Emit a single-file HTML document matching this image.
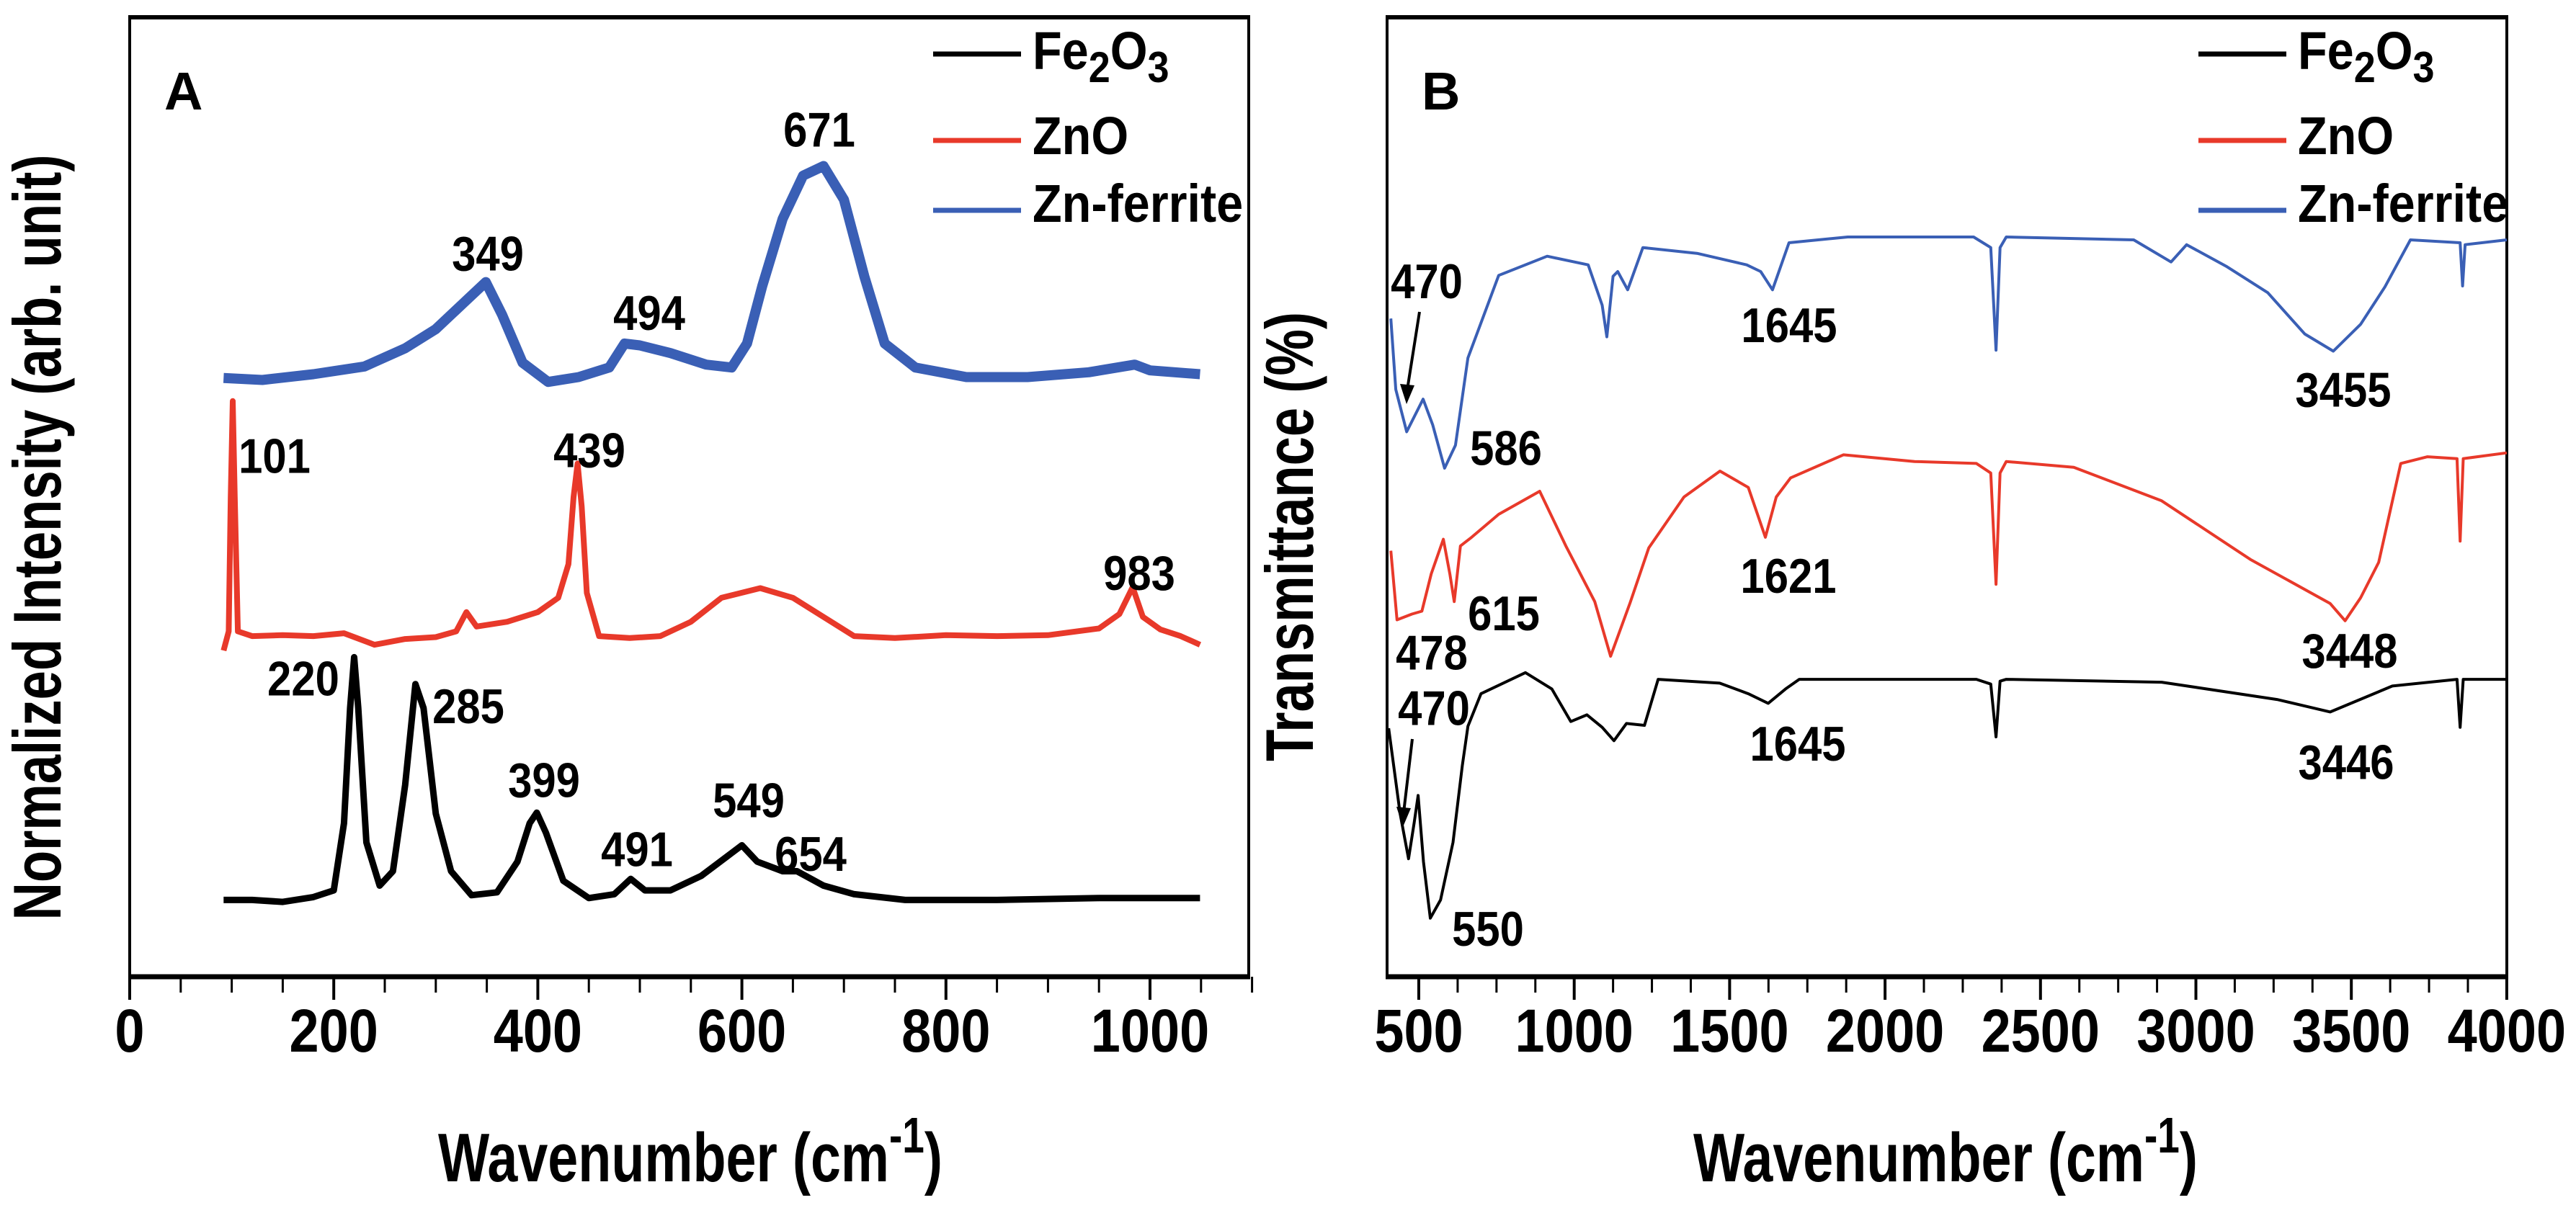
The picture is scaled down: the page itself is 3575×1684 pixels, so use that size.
<!DOCTYPE html>
<html><head><meta charset="utf-8"><style>
html,body{margin:0;padding:0;background:#fff}
svg{display:block}
text{font-family:"Liberation Sans",sans-serif;font-weight:bold;fill:#000}
</style></head><body>
<svg id="fig" width="3575" height="1684" viewBox="0 0 3575 1684" xmlns="http://www.w3.org/2000/svg">
<rect width="3575" height="1684" fill="#fff"/>
<g id="panelA"></g>
<g id="panelB"></g>
</svg>
<script>
// ---------- Panel A data (Raman) ----------
const ramanFe2O3 = [[92,8],[120,8],[150,7.8],[180,8.3],[200,9],[210,16],[216,28],[220,33.3],[224,28],[232,14],[245,9.5],[258,11],[270,20],[280,30.5],[288,28],[300,17],[315,11],[335,8.5],[360,8.8],[380,12],[392,16],[399,17.1],[408,15],[425,10],[450,8.2],[475,8.6],[491,10.2],[505,9],[530,9],[560,10.5],[585,12.5],[600,13.7],[615,12],[640,11],[654,11],[680,9.5],[710,8.6],[760,8],[850,8],[950,8.2],[1049,8.2]];
const ramanZnO = [[92,34],[97,36],[99,50],[101,60],[103,50],[106,36],[120,35.5],[150,35.6],[180,35.5],[210,35.8],[240,34.6],[270,35.2],[300,35.4],[320,36],[330,38],[340,36.5],[370,37],[400,38],[420,39.5],[430,43],[435,50],[439,53.5],[443,49],[448,40],[460,35.5],[490,35.3],[520,35.5],[550,37],[580,39.5],[618,40.5],[650,39.5],[680,37.5],[710,35.5],[750,35.3],[800,35.6],[850,35.5],[900,35.6],[950,36.3],[970,37.8],[983,40.6],[993,37.5],[1010,36.2],[1030,35.5],[1049,34.6]];
const ramanZnFerrite = [[92,62.4],[130,62.2],[180,62.8],[230,63.6],[270,65.5],[300,67.5],[330,70.5],[349,72.4],[365,69],[385,64],[410,62],[440,62.5],[470,63.5],[485,66],[500,65.8],[530,65],[565,63.8],[590,63.5],[605,66],[620,72],[640,79],[660,83.5],[680,84.5],[700,81],[720,73],[740,66],[770,63.5],[820,62.5],[880,62.5],[940,63],[985,63.8],[1000,63.2],[1049,62.8]];
const ticksA = [0,200,400,600,800,1000];
const peakLabelsA = [["349",349,75.5],["494",494,69.3],["671",671,88.4],["101",101,54.4],["439",439,55],["983",983,42.2],["220",220,31.2],["285",285,28.3],["399",399,20.6],["549",600,18.5],["491",491,13.4],["654",654,12.9]];
const peakLabelsAx = [677,901,1137,381,818,1581,421,650,755,1039,884,1125];

// ---------- Panel B data (FTIR) ----------
const ftirFe2O3 = [[403,25.9],[440,17],[467,12.3],[485,16],[498,18.9],[515,12],[537,6.1],[570,8],[610,14],[640,22],[658,26.1],[700,29.5],[843,31.7],[928,30.0],[989,26.6],[1041,27.3],[1090,26],[1128,24.6],[1168,26.4],[1226,26.2],[1270,31.0],[1468,30.6],[1560,29.5],[1624,28.5],[1680,30],[1724,31.0],[2294,31.0],[2340,30.5],[2357,25.0],[2370,30.8],[2390,31.0],[2890,30.7],[3261,28.9],[3432,27.6],[3632,30.3],[3840,31],[3850,26],[3860,31],[4000,31.0]];
const ftirZnO = [[410,44.4],[430,37.2],[478,37.8],[510,38.1],[540,42],[579,45.6],[600,42],[614,39.1],[634,44.9],[670,45.8],[757,48.2],[889,50.6],[973,44.9],[1066,39.1],[1117,33.4],[1180,39],[1240,44.7],[1353,50.0],[1469,52.7],[1560,51],[1615,45.8],[1650,50],[1696,52.0],[1866,54.4],[2095,53.7],[2294,53.5],[2340,52.5],[2357,40.9],[2370,52.5],[2390,53.7],[2607,53.1],[2890,49.6],[3175,43.5],[3432,38.9],[3480,37.1],[3530,39.5],[3588,43.2],[3659,53.5],[3745,54.2],[3840,54],[3850,45.4],[3860,54],[4000,54.6]];
const ftirZnFerrite = [[410,68.6],[426,61.2],[461,56.8],[514,60.2],[545,57.5],[583,53.0],[618,55.4],[658,64.5],[757,73.1],[913,75.1],[1045,74.2],[1090,70],[1105,66.7],[1125,73],[1140,73.5],[1172,71.6],[1221,76.0],[1395,75.4],[1555,74.2],[1600,73.5],[1638,71.6],[1691,76.5],[1880,77.1],[2285,77.1],[2340,76],[2357,65.3],[2370,76],[2390,77.1],[2800,76.8],[2920,74.5],[2970,76.3],[3100,74],[3231,71.3],[3350,67],[3442,65.2],[3530,68],[3608,71.9],[3690,76.8],[3850,76.5],[3858,72],[3866,76.3],[4000,76.8]];
const ticksB = [500,1000,1500,2000,2500,3000,3500,4000];
const peakLabelsB = [["470",470,72.6],["586",586,55.2],["615",615,38],["478",478,33.9],["470",470,28.1],["550",550,5.1],["1645",1645,68],["3455",3455,61.3],["1621",1621,41.9],["3448",3448,34.1],["1645",1645,24.4],["3446",3446,22.5]];
const peakLabelsBx = [1980,2090,2087,1987,1990,2065,2483,3252,2482,3261,2495,3256];

const NS = "http://www.w3.org/2000/svg";
const TOP = 24, BOT = 1356;
const yS = v => BOT - (v/100)*(BOT-TOP);
function mk(tag, attrs, parent){const e=document.createElementNS(NS,tag);for(const k in attrs)e.setAttribute(k,attrs[k]);parent.appendChild(e);return e;}

function panel(g, left, right, xS, xmin, xmax, minorStep, ticks, series, labels, labelsX, letter, ytitle, ytx, yty, ytLen, xtx, legX){
  // frame
  let f = mk('rect',{x:left,y:TOP,width:right-left,height:BOT-TOP,fill:'none',stroke:'#000','stroke-width':4},g);
  
  
  let ax = mk('line',{x1:left-2,x2:right+2,y1:BOT,y2:BOT,stroke:'#000','stroke-width':7},g);
  
  
  let tp = mk('line',{x1:left-2,x2:right+2,y1:TOP,y2:TOP,stroke:'#000','stroke-width':6},g);
  
  
  // minor ticks
  for(let w=Math.ceil(xmin/minorStep)*minorStep; w<=xmax+1; w+=minorStep){
    const x=xS(w); const major=ticks.includes(w);
    let t=mk('line',{x1:x,x2:x,y1:BOT,y2:BOT+(major?32:22),stroke:'#000','stroke-width':major?4:3},g);
    
    
  }
  ticks.forEach(w=>{
    let t=mk('text',{x:xS(w),y:1460,'font-size':84,'text-anchor':'middle',transform:`translate(${xS(w)},0) scale(0.88,1) translate(${-xS(w)},0)`},g);
    t.textContent=w;
    
    
  });
  // series
  series.forEach(s=>{
    const d=s.data.map((p,i)=>(i?'L':'M')+xS(p[0]).toFixed(1)+','+yS(p[1]).toFixed(1)).join(' ');
    let p=mk('path',{d:d,fill:'none',stroke:s.color,'stroke-width':s.w,'stroke-linejoin':'round'},g);
    
    
  });
  // peak labels
  labels.forEach((l,i)=>{
    let t=mk('text',{x:labelsX[i],y:yS(l[2])+25,'font-size':68,'text-anchor':'middle',transform:`translate(${labelsX[i]},0) scale(0.88,1) translate(${-labelsX[i]},0)`},g);
    t.textContent=l[0];
    
    
  });
  // panel letter
  let L=mk('text',{x:left+48,y:152,'font-size':74},g);
  L.textContent=letter;
  
  
  // y title
  let yt=mk('text',{x:ytx,y:yty,'font-size':94,'text-anchor':'middle',textLength:ytLen,lengthAdjust:'spacingAndGlyphs',transform:`rotate(-90 ${ytx} ${yty})`},g);
  yt.textContent=ytitle;
  
  
  // x title
  let xt=mk('text',{x:xtx,y:1640,'font-size':96,'text-anchor':'middle',textLength:700,lengthAdjust:'spacingAndGlyphs'},g);
  xt.innerHTML='Wavenumber (cm<tspan dy="-40" font-size="70">-1</tspan><tspan dy="40">)</tspan>';
  
  
  // legend
  const leg=[["Fe2O3","#000",75,96],["ZnO","#e8392a",195,214],["Zn-ferrite","#3a5fb5",292,308]];
  leg.forEach((e,i)=>{
    let gl=mk('g',{},g);
    
    
    mk('line',{x1:legX,x2:legX+122,y1:e[2],y2:e[2],stroke:e[1],'stroke-width':7},gl);
    let t=mk('text',{x:legX+138,y:e[3],'font-size':74,'font-weight':'normal',transform:`translate(${legX+138},0) scale(0.9,1) translate(${-(legX+138)},0)`},gl);
    if(i===0) t.innerHTML='Fe<tspan dy="18" font-size="60">2</tspan><tspan dy="-18">O</tspan><tspan dy="18" font-size="60">3</tspan>';
    else t.textContent=e[0];
  });
}

const gA=document.getElementById('panelA');
const xA = w => 180 + w*1.416;
panel(gA,180,1733,xA,0,1100,50,ticksA,
 [{data:ramanFe2O3,color:'#000',w:9,name:'series-fe2o3'},{data:ramanZnO,color:'#e8392a',w:8,name:'series-zno'},{data:ramanZnFerrite,color:'#3a5fb5',w:14,name:'series-zn-ferrite'}],
 peakLabelsA,peakLabelsAx,'A','Normalized Intensity (arb. unit)',84,746,1063,958,1295);

const gB=document.getElementById('panelB');
const xB = w => 1969 + (w-500)*0.4314;
panel(gB,1925,3479,xB,400,4000,125,ticksB,
 [{data:ftirFe2O3,color:'#000',w:4,name:'series-fe2o3'},{data:ftirZnO,color:'#e8392a',w:4,name:'series-zno'},{data:ftirZnFerrite,color:'#3a5fb5',w:4,name:'series-zn-ferrite'}],
 peakLabelsB,peakLabelsBx,'B','Transmittance (%)',1822,745,624,2700,3051);

// arrows in panel B
[[1970,433,1953,561],[1960,1026,1948,1148]].forEach(a=>{
  let gl=mk('g',{},gB);
  
  
  mk('line',{x1:a[0],y1:a[1],x2:a[2],y2:a[3]-20,stroke:'#000','stroke-width':4},gl);
  mk('polygon',{points:`${a[2]-10},${a[3]-28} ${a[2]+10},${a[3]-26} ${a[2]-1},${a[3]}`,fill:'#000'},gl);
});
</script>
</body></html>
